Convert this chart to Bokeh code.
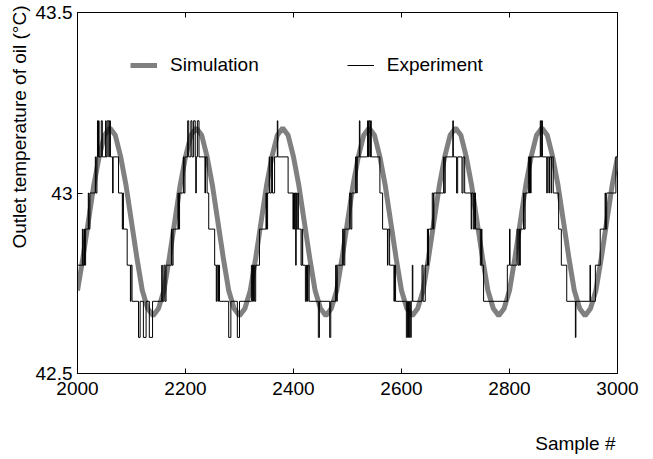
from bokeh.plotting import figure
from bokeh.models import Range1d, LinearAxis, FixedTicker, Legend, LegendItem, Title
from bokeh.embed import file_html
from bokeh.resources import INLINE

# ---------------- data ----------------
x_ticks = [2000, 2200, 2400, 2600, 2800, 3000]
y_ticks = [42.5, 43, 43.5]
y_tick_labels = {42.5: "42.5", 43: "43", 43.5: "43.5"}

# Simulation: sampled every 10 samples from 2000 to 3000
sim_x = list(range(2000, 3001, 10))
sim_y = [
    42.73, 42.82, 42.92, 43.02, 43.10, 43.16, 43.18, 43.16, 43.10, 43.02, 42.92, 42.82, 42.73, 42.68, 42.66, 42.68,
    42.73, 42.82, 42.92, 43.02, 43.10, 43.16, 43.18, 43.16, 43.10, 43.02, 42.92, 42.82, 42.73, 42.68, 42.66, 42.68,
    42.73, 42.82, 42.92, 43.02, 43.10, 43.16, 43.18, 43.16, 43.10, 43.02, 42.92, 42.82, 42.73, 42.68, 42.66, 42.68,
    42.73, 42.82, 42.92, 43.02, 43.10, 43.16, 43.18, 43.16, 43.10, 43.02, 42.92, 42.82, 42.73, 42.68, 42.66, 42.68,
    42.73, 42.82, 42.92, 43.02, 43.10, 43.16, 43.18, 43.16, 43.10, 43.02, 42.92, 42.82, 42.73, 42.68, 42.66, 42.68,
    42.73, 42.82, 42.92, 43.02, 43.10, 43.16, 43.18, 43.16, 43.10, 43.02, 42.92, 42.82, 42.73, 42.68, 42.66, 42.68,
    42.73, 42.82, 42.92, 43.02, 43.10,
]

# Experiment: quantised measurement, sample numbers where the value changes
exp_x = [
    2000, 2009, 2010, 2012, 2013, 2015, 2020, 2021, 2023, 2033,
    2034, 2036, 2037, 2038, 2039, 2040, 2044, 2046, 2052, 2053,
    2055, 2058, 2059, 2061, 2065, 2066, 2076, 2083, 2084, 2085,
    2092, 2098, 2099, 2101, 2113, 2116, 2122, 2127, 2133, 2139,
    2156, 2157, 2160, 2162, 2164, 2174, 2175, 2177, 2186, 2187,
    2189, 2196, 2197, 2199, 2204, 2206, 2210, 2212, 2215, 2218,
    2219, 2220, 2222, 2225, 2236, 2237, 2240, 2243, 2254, 2257,
    2258, 2260, 2261, 2263, 2280, 2284, 2296, 2300, 2322, 2324,
    2326, 2328, 2330, 2337, 2349, 2350, 2352, 2355, 2356, 2359,
    2361, 2365, 2370, 2371, 2390, 2399, 2400, 2401, 2402, 2404,
    2405, 2406, 2408, 2409, 2414, 2416, 2417, 2422, 2424, 2426,
    2427, 2429, 2446, 2448, 2467, 2469, 2478, 2480, 2481, 2491,
    2493, 2495, 2504, 2506, 2508, 2515, 2517, 2518, 2522, 2523,
    2537, 2539, 2540, 2542, 2543, 2544, 2560, 2565, 2574, 2575,
    2578, 2586, 2587, 2589, 2609, 2611, 2613, 2615, 2617, 2618,
    2620, 2621, 2638, 2640, 2644, 2648, 2649, 2650, 2657, 2659,
    2660, 2678, 2679, 2681, 2695, 2696, 2702, 2704, 2712, 2714,
    2717, 2729, 2730, 2733, 2735, 2737, 2746, 2748, 2749, 2752,
    2796, 2800, 2801, 2814, 2816, 2818, 2819, 2820, 2826, 2827,
    2829, 2835, 2837, 2838, 2839, 2840, 2857, 2858, 2859, 2861,
    2869, 2870, 2873, 2874, 2877, 2878, 2881, 2891, 2896, 2906,
    2922, 2923, 2949, 2950, 2959, 2968, 2977, 2978, 2980, 2997,
    3000,
]
exp_y = [
    42.8, 42.9, 42.8, 42.9, 42.8, 42.9, 43.0, 42.9, 43.0, 43.1,
    43.0, 43.1, 43.2, 43.1, 43.2, 43.1, 43.2, 43.1, 43.2, 43.1,
    43.2, 43.1, 43.2, 43.1, 43.0, 43.1, 43.0, 42.9, 43.0, 42.9,
    42.8, 42.7, 42.8, 42.7, 42.6, 42.7, 42.6, 42.7, 42.6, 42.7,
    42.8, 42.7, 42.8, 42.7, 42.8, 42.9, 42.8, 42.9, 43.0, 42.9,
    43.0, 43.1, 43.0, 43.1, 43.2, 43.1, 43.2, 43.1, 43.2, 43.1,
    43.0, 43.1, 43.2, 43.1, 43.0, 43.1, 43.0, 42.9, 42.8, 42.7,
    42.8, 42.7, 42.8, 42.7, 42.6, 42.7, 42.6, 42.7, 42.8, 42.7,
    42.8, 42.7, 42.8, 42.9, 43.0, 42.9, 43.0, 43.1, 43.0, 43.1,
    43.0, 43.1, 43.2, 43.1, 43.0, 42.9, 43.0, 42.9, 43.0, 42.8,
    43.0, 42.9, 43.0, 42.9, 42.8, 42.9, 42.8, 42.7, 42.8, 42.7,
    42.8, 42.7, 42.6, 42.7, 42.6, 42.7, 42.8, 42.7, 42.8, 42.9,
    42.8, 42.9, 43.0, 42.9, 43.0, 43.1, 43.0, 43.1, 43.2, 43.1,
    43.2, 43.1, 43.2, 43.1, 43.2, 43.1, 43.0, 42.9, 42.8, 42.9,
    42.8, 42.7, 42.8, 42.7, 42.6, 42.7, 42.6, 42.7, 42.6, 42.7,
    42.8, 42.7, 42.8, 42.7, 42.8, 42.9, 42.8, 42.9, 43.0, 42.9,
    43.0, 43.1, 43.0, 43.1, 43.2, 43.1, 43.0, 43.1, 43.0, 43.1,
    43.0, 42.9, 43.0, 42.9, 43.0, 42.9, 42.8, 42.9, 42.8, 42.7,
    42.8, 42.9, 42.8, 42.9, 42.8, 42.9, 42.8, 42.9, 43.0, 42.9,
    43.0, 43.1, 43.0, 43.1, 43.0, 43.1, 43.2, 43.1, 43.2, 43.1,
    43.0, 43.1, 43.0, 43.1, 43.0, 43.1, 43.0, 42.9, 42.8, 42.7,
    42.6, 42.7, 42.8, 42.7, 42.8, 42.9, 43.0, 42.9, 43.0, 43.1,
    43.1,
]

x_title = "Sample #"
y_title = "Outlet temperature of oil (°C)"

FONT = "Liberation Sans"
FS = "19px"

p = figure(
    width=653, height=459,
    x_range=Range1d(2000, 3000), y_range=Range1d(42.5, 43.5),
    output_backend="svg", toolbar_location=None,
    min_border_left=77, min_border_right=36, min_border_top=12, min_border_bottom=86,
)
p.grid.visible = False
p.outline_line_color = "black"
p.outline_line_width = 1
p.background_fill_color = "white"
p.border_fill_color = "white"

xa = p.xaxis[0]
xa.ticker = FixedTicker(ticks=x_ticks)
xa.major_tick_in = 5
xa.major_tick_out = 0
xa.minor_tick_in = 0
xa.minor_tick_out = 0
xa.axis_line_color = "black"
xa.major_tick_line_color = "black"
xa.major_label_text_font = FONT
xa.major_label_text_font_size = FS
xa.major_label_text_color = "black"
xa.major_label_standoff = 8

ya = p.yaxis[0]
ya.ticker = FixedTicker(ticks=y_ticks)
ya.major_label_overrides = y_tick_labels
ya.major_tick_in = 5
ya.major_tick_out = 0
ya.minor_tick_in = 0
ya.minor_tick_out = 0
ya.axis_line_color = "black"
ya.major_tick_line_color = "black"
ya.major_label_text_font = FONT
ya.major_label_text_font_size = FS
ya.major_label_text_color = "black"
ya.major_label_standoff = 5

top = LinearAxis(
    ticker=FixedTicker(ticks=x_ticks),
    major_tick_in=5, major_tick_out=0, minor_tick_in=0, minor_tick_out=0,
    major_label_text_font_size="0px", major_label_standoff=0,
    major_label_overrides={t: "" for t in x_ticks},
    axis_line_color="black", major_tick_line_color="black",
)
p.add_layout(top, "above")

r_sim = p.line(sim_x, sim_y, line_width=5, line_color="#808080")
r_exp = p.step(exp_x, exp_y, mode="after", line_width=1, line_color="black")

legend = Legend(
    items=[LegendItem(label="Simulation", renderers=[r_sim]),
           LegendItem(label="Experiment", renderers=[r_exp])],
    orientation="horizontal", location=(53, 297),
    glyph_width=27, glyph_height=20, label_standoff=13, spacing=88,
    padding=0, margin=0, border_line_color=None, background_fill_alpha=0,
    label_text_font=FONT, label_text_font_size=FS, label_text_color="black",
)
p.add_layout(legend)

# blank title used only as vertical spacing below the tick labels
p.add_layout(Title(text=" ", standoff=7, text_font=FONT, text_font_size=FS,
                   text_font_style="normal"), "below")
p.add_layout(Title(text=x_title, align="right", offset=2, standoff=6,
                   text_font=FONT, text_font_size=FS, text_font_style="normal",
                   text_color="black"), "below")
p.add_layout(Title(text=y_title, align="right", offset=-7, standoff=6,
                   text_font=FONT, text_font_size=FS, text_font_style="normal",
                   text_color="black"), "left")

open("out.html", "w").write(file_html(p, INLINE))
